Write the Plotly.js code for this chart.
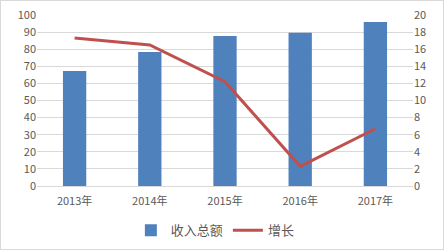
<!DOCTYPE html>
<html><head><meta charset="utf-8">
<script src="https://cdn.plot.ly/plotly-3.0.1.min.js"></script>
<style>html,body{margin:0;padding:0;background:#fff}#c{width:444px;height:250px;box-sizing:border-box;border:1px solid #d9d9d9}</style>
</head><body><div id="c"></div>
<script>
const categories = ['2013年','2014年','2015年','2016年','2017年'];
const revenue = [67.3, 78.4, 87.7, 89.6, 95.9];
const growth = [17.3, 16.5, 12.2, 2.3, 6.7];
const yTicks = [0,10,20,30,40,50,60,70,80,90,100];
const y2Ticks = [0,2,4,6,8,10,12,14,16,18,20];
const font = {family:'"Noto Sans CJK SC", "Liberation Sans", sans-serif', size:11, color:'#595959'};
Plotly.newPlot('c', [
  {type:'bar', name:'收入总额', x:categories, y:revenue, marker:{color:'#4F81BD'}},
  {type:'scatter', mode:'lines', name:'增长', x:categories, y:growth, yaxis:'y2', line:{color:'#C0504D', width:3}}
], {
  width:442, height:248,
  margin:{l:36, r:30, t:14, b:63},
  paper_bgcolor:'#fff', plot_bgcolor:'#fff',
  font:font,
  bargap:0.69,
  showlegend:true,
  legend:{orientation:'h', x:0.485, xanchor:'center', xref:'container', y:0.075, yanchor:'middle', yref:'container', font:{family:font.family, size:13, color:'#595959'}, traceorder:'normal', itemwidth:30, tracegroupgap:0},
  xaxis:{showgrid:false, showline:true, linecolor:'#d9d9d9', ticks:'', tickfont:font, ticklabelstandoff:5},
  yaxis:{range:[0,100], tickvals:yTicks, gridcolor:'#d9d9d9', zeroline:false, showline:false, ticks:'', tickfont:font},
  yaxis2:{range:[0,20], tickvals:y2Ticks, overlaying:'y', side:'right', showgrid:false, zeroline:false, ticks:'', tickfont:font}
}, {displayModeBar:false, staticPlot:true});
</script></body></html>
